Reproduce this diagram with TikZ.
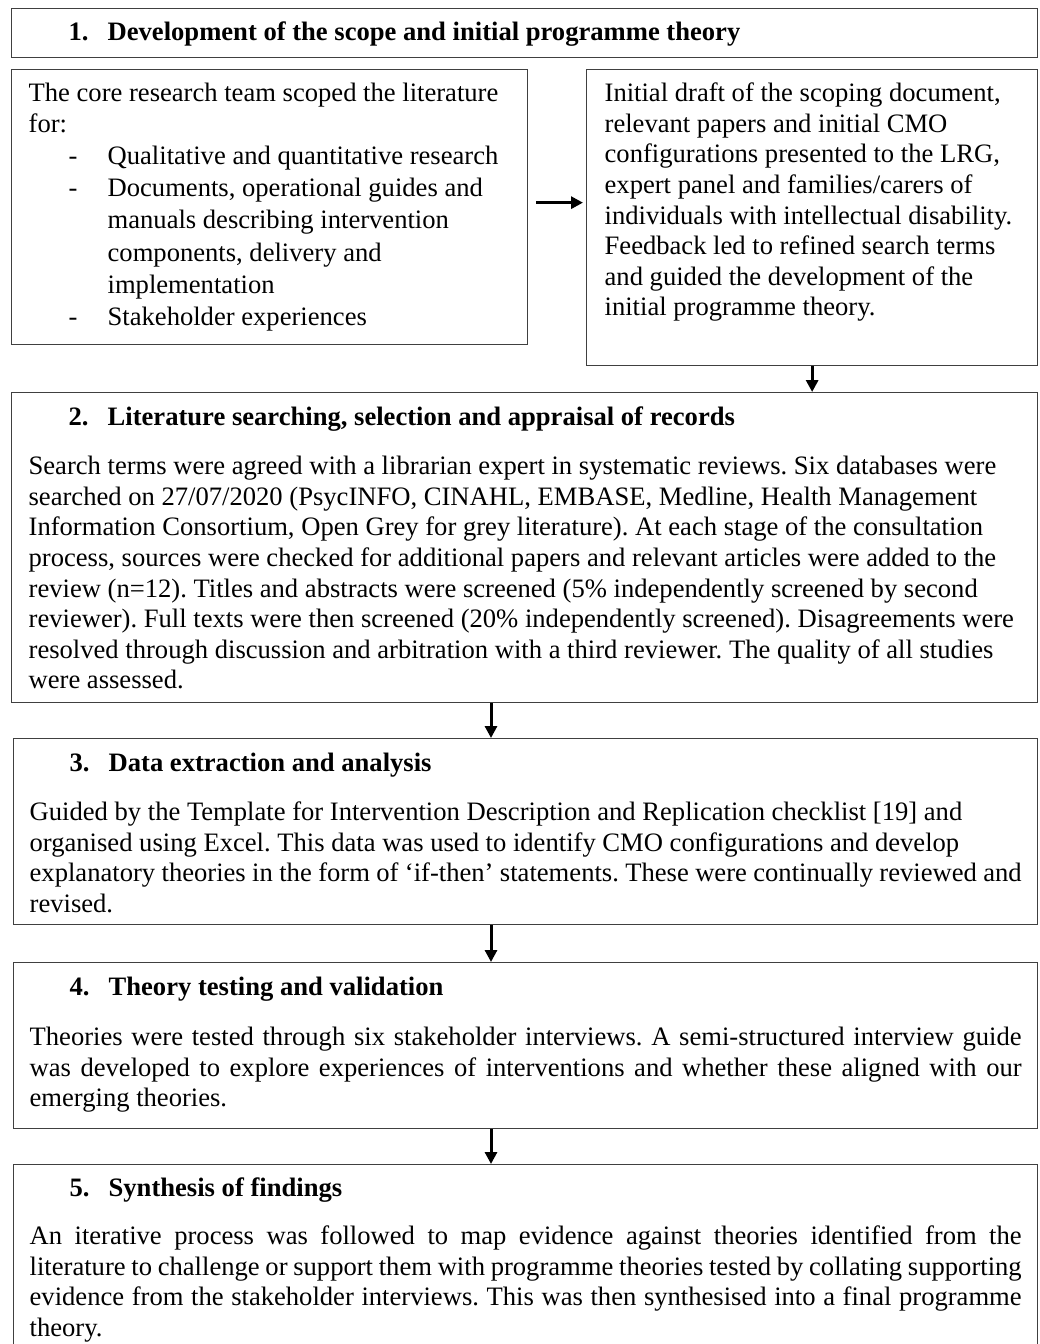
\documentclass[tikz,border=0pt]{standalone}
\usepackage{fontspec}
\setmainfont{Liberation Serif}
\usetikzlibrary{arrows.meta,positioning}
\definecolor{framegray}{gray}{0.25}
\frenchspacing
\tikzset{
  stage/.style={draw=framegray, line width=1.3pt, anchor=north west, inner xsep=17pt, inner ysep=0pt,
    font=\fontsize{26.6pt}{30.6pt}\selectfont},
  flow/.style={line width=3pt, -{Triangle[length=12pt,width=12pt]}},
}
\newcommand{\stagehead}[2]{\hspace*{40pt}\textbf{\makebox[39pt][l]{#1}#2}}
\newcommand{\dashitem}{\par\baselineskip=32.2pt\hangindent=79pt\hangafter=1\noindent\hspace*{40pt}\makebox[39pt][l]{-}}
\begin{document}
\begin{tikzpicture}[x=1pt,y=-1pt]
  \useasboundingbox (0,0) rectangle (1040,1344);
  \coordinate (spine) at (491,0);
  % stage 1: scope and initial programme theory
  \node[stage, text height=32pt, text depth=17pt] (s1) at (11,8)
    {\parbox[t]{992pt}{\stagehead{1.}{Development of the scope and initial programme theory}}};
  \node[stage, text height=32pt, text depth=243pt] (lbox) at (11,69)
    {\parbox[t]{482pt}{The core research team scoped the literature\newline for:
      \dashitem Qualitative and quantitative research
      \dashitem Documents, operational guides and\newline manuals describing intervention\newline components, delivery and\newline implementation
      \dashitem Stakeholder experiences}};
  \node[stage, inner xsep=18pt, text height=32pt, text depth=264pt] (rbox) at (586,69)
    {\parbox[t]{415pt}{Initial draft of the scoping document,\newline relevant papers and initial CMO\newline
      configurations presented to the LRG,\newline expert panel and families/carers of\newline
      individuals with intellectual disability.\newline Feedback led to refined search terms\newline
      and guided the development of the\newline initial programme theory.}};
  % stage 2
  \node[stage, text height=33pt, text depth=277pt] (s2) at (11,392)
    {\parbox[t]{992pt}{\stagehead{2.}{Literature searching, selection and appraisal of records}\par\vspace{18.4pt}
      Search terms were agreed with a librarian expert in systematic reviews. Six databases were\newline
      searched on 27/07/2020 (PsycINFO, CINAHL, EMBASE, Medline, Health Management\newline
      Information Consortium, Open Grey for grey literature). At each stage of the consultation\newline
      process, sources were checked for additional papers and relevant articles were added to the\newline
      review (n=12). Titles and abstracts were screened (5\% independently screened by second\newline
      reviewer). Full texts were then screened (20\% independently screened). Disagreements were\newline
      resolved through discussion and arbitration with a third reviewer. The quality of all studies\newline
      were assessed.}};
  % stage 3
  \node[stage, inner xsep=16pt, text height=33pt, text depth=153pt] (s3) at (13,738)
    {\parbox[t]{992pt}{\stagehead{3.}{Data extraction and analysis}\par\vspace{18.4pt}
      Guided by the Template for Intervention Description and Replication checklist [19] and\newline
      organised using Excel. This data was used to identify CMO configurations and develop\newline
      explanatory theories in the form of ‘if-then’ statements. These were continually reviewed and\newline
      revised.}};
  % stage 4
  \node[stage, inner xsep=16pt, text height=33pt, text depth=133pt] (s4) at (13,962)
    {\parbox[t]{992pt}{\stagehead{4.}{Theory testing and validation}\par\vspace{19.4pt}
      Theories were tested through six stakeholder interviews. A semi-structured interview guide\linebreak
      was developed to explore experiences of interventions and whether these aligned with our\linebreak
      emerging theories.}};
  % stage 5
  \node[stage, inner xsep=16pt, text height=32pt, text depth=150pt] (s5) at (13,1164)
    {\parbox[t]{992pt}{\stagehead{5.}{Synthesis of findings}\par\vspace{17.4pt}
      An iterative process was followed to map evidence against theories identified from the\linebreak
      literature to challenge or support them with programme theories tested by collating supporting\linebreak
      evidence from the stakeholder interviews. This was then synthesised into a final programme\linebreak
      theory.}};
  % arrows
  \draw[flow] ([xshift=8pt,yshift=4.5pt]lbox.east) -- ([xshift=-3pt,yshift=4.5pt]lbox.east -| rbox.west);
  \draw[flow] (rbox.south) -- (rbox.south |- s2.north);
  \draw[flow] (s2.south -| spine) -- (s3.north -| spine);
  \draw[flow] (s3.south -| spine) -- (s4.north -| spine);
  \draw[flow] (s4.south -| spine) -- (s5.north -| spine);
\end{tikzpicture}
\end{document}
